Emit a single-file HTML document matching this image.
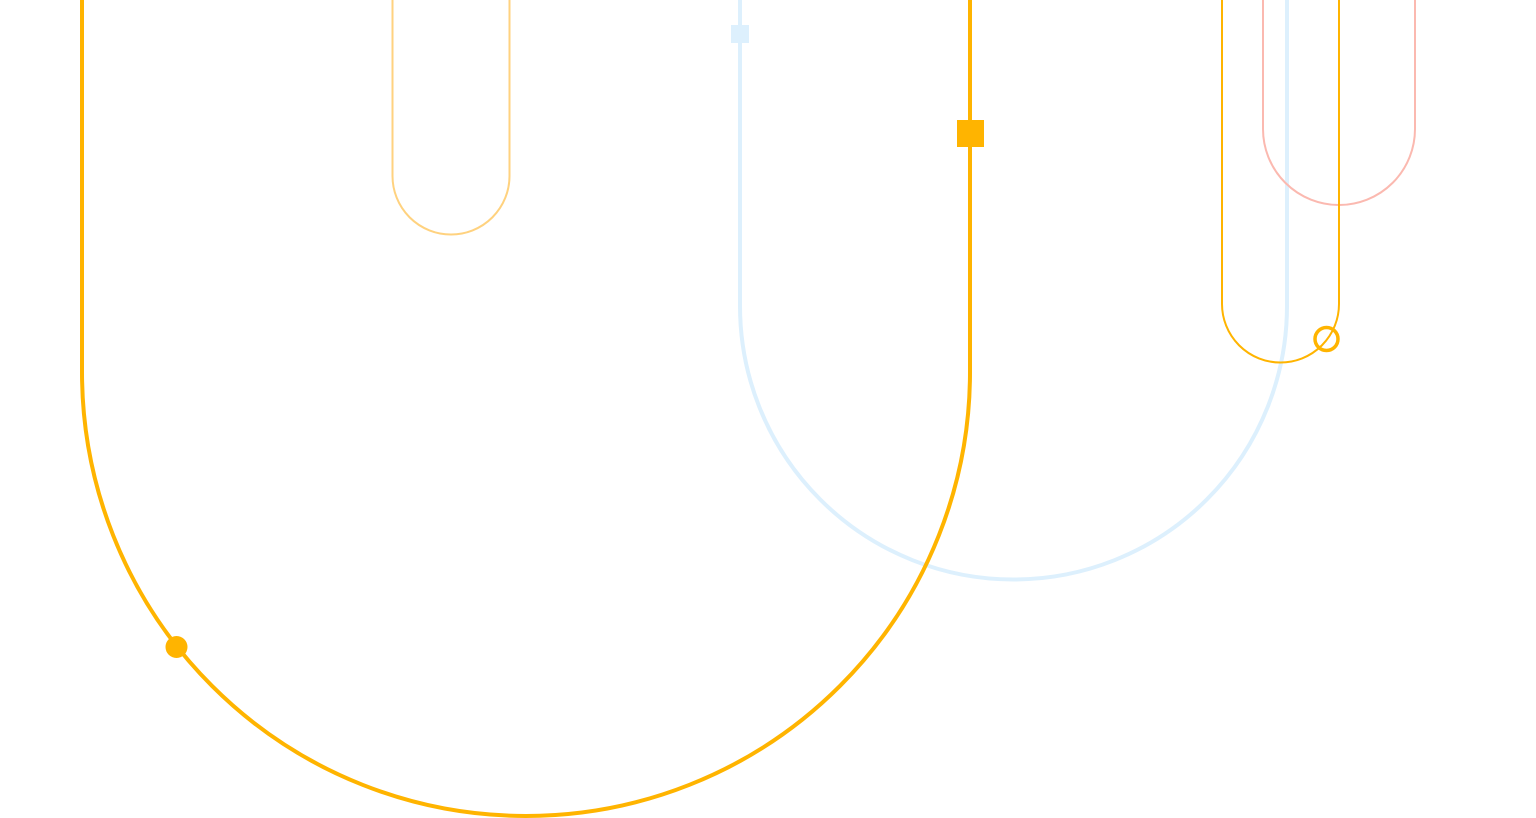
<!DOCTYPE html>
<html><head><meta charset="utf-8"><style>
html,body{margin:0;padding:0;background:#fff;width:1536px;height:818px;overflow:hidden}
svg{display:block}
</style></head><body>
<svg width="1536" height="818" viewBox="0 0 1536 818" xmlns="http://www.w3.org/2000/svg" fill="none">
<path d="M740 0 V306 A273.5 273.5 0 0 0 1287 306 V0" stroke="#DDF0FD" stroke-width="4"/>
<path d="M82 0 V372 A444 444 0 0 0 970 372 V0" stroke="#FFB400" stroke-width="4"/>
<path d="M392.5 0 V176 A58.5 58.5 0 0 0 509.5 176 V0" stroke="#FFD27F" stroke-width="2"/>
<path d="M1263 0 V129 A76 76 0 0 0 1415 129 V0" stroke="#FBB9B0" stroke-width="2"/>
<path d="M1222 0 V304 A58.5 58.5 0 0 0 1339 304 V0" stroke="#FFB400" stroke-width="2"/>
<rect x="731" y="25" width="18" height="18" fill="#DDF0FD"/>
<rect x="957" y="120" width="27" height="27" fill="#FFB400"/>
<circle cx="176.5" cy="647" r="11" fill="#FFB400"/>
<circle cx="1326.5" cy="339" r="11.5" stroke="#FFB400" stroke-width="3.5"/>
</svg>
</body></html>
